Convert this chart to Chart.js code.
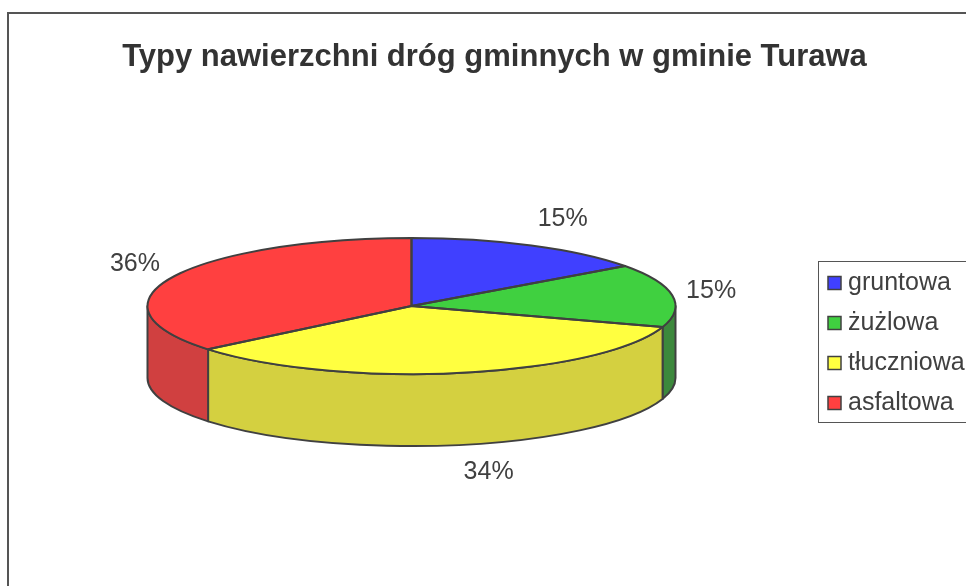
<!DOCTYPE html>
<html><head><meta charset="utf-8">
<script src="https://cdn.jsdelivr.net/npm/chart.js@4/dist/chart.umd.min.js"></script>
<style>html,body{margin:0;padding:0;background:#fff;overflow:hidden}canvas{display:block}</style>
</head><body>
<canvas id="c" width="966" height="586"></canvas>
<script>
const TITLE = 'Typy nawierzchni dróg gminnych w gminie Turawa';
const categories = ['gruntowa', 'żużlowa', 'tłuczniowa', 'asfaltowa'];
const shares = [15, 15, 34, 36];
const percentLabels = ['15%', '15%', '34%', '36%'];
const topColors = ['#4040FF', '#40D040', '#FFFF40', '#FF4040'];
const sideColors = ['#3434C4', '#3C883C', '#D4D040', '#D04040'];

const TILT = 68 / 264;
const DEPTH = 72;
const EDGE = '#404040';
const FONT = '"Liberation Sans", Arial, sans-serif';

function geom(chart) {
  const arcs = chart.getDatasetMeta(0).data;
  const a0 = arcs[0];
  return { arcs, cx: a0.x, cy: a0.y, r: a0.outerRadius, ry: a0.outerRadius * TILT };
}

const pie3d = {
  id: 'pie3d',
  beforeDraw(chart) {
    const ctx = chart.ctx;
    ctx.save();
    ctx.fillStyle = '#fff';
    ctx.fillRect(0, 0, chart.width, chart.height);
    ctx.strokeStyle = '#555';
    ctx.lineWidth = 2;
    ctx.strokeRect(8, 13, 1000, 1000);
    ctx.restore();
  },
  beforeDatasetsDraw(chart) {
    const ctx = chart.ctx;
    const g = geom(chart);
    ctx.save();
    ctx.lineWidth = 2;
    ctx.lineJoin = 'round';
    ctx.strokeStyle = EDGE;
    g.arcs.forEach((arc, i) => {
      const a = Math.max(arc.startAngle, 0);
      const b = Math.min(arc.endAngle, Math.PI);
      if (b <= a) return;
      ctx.beginPath();
      ctx.ellipse(g.cx, g.cy, g.r, g.ry, 0, a, b, false);
      ctx.lineTo(g.cx + g.r * Math.cos(b), g.cy + g.ry * Math.sin(b) + DEPTH);
      ctx.ellipse(g.cx, g.cy + DEPTH, g.r, g.ry, 0, b, a, true);
      ctx.closePath();
      ctx.fillStyle = sideColors[i];
      ctx.fill();
      ctx.stroke();
    });
    ctx.restore();
    ctx.save();
    ctx.translate(g.cx, g.cy);
    ctx.scale(1, TILT);
    ctx.translate(-g.cx, -g.cy);
  },
  afterDatasetsDraw(chart) {
    const ctx = chart.ctx;
    ctx.restore();
    const g = geom(chart);
    ctx.save();
    ctx.lineWidth = 2;
    ctx.lineJoin = 'round';
    ctx.strokeStyle = EDGE;
    g.arcs.forEach((arc) => {
      ctx.beginPath();
      ctx.moveTo(g.cx, g.cy);
      ctx.ellipse(g.cx, g.cy, g.r, g.ry, 0, arc.startAngle, arc.endAngle, false);
      ctx.closePath();
      ctx.stroke();
    });
    // percentage labels
    ctx.font = '25px ' + FONT;
    ctx.fillStyle = '#404040';
    ctx.textAlign = 'center';
    ctx.textBaseline = 'middle';
    const gap = 14, halfH = 14;
    g.arcs.forEach((arc, i) => {
      const m = (arc.startAngle + arc.endAngle) / 2;
      const c = Math.cos(m), s = Math.sin(m);
      let px = g.cx + g.r * c, py = g.cy + g.ry * s + (s > 0 ? DEPTH : 0);
      px += c * gap; py += s * gap;
      const w = ctx.measureText(percentLabels[i]).width;
      const n = Math.max(Math.abs(c), Math.abs(s));
      const x = px + Math.sign(c) * w / 2;
      const y = py + (s / n) * halfH;
      ctx.fillText(percentLabels[i], x, y);
    });
    ctx.restore();
  },
  afterDraw(chart) {
    const ctx = chart.ctx;
    ctx.save();
    // title
    ctx.font = 'bold 31px ' + FONT;
    ctx.fillStyle = '#333';
    ctx.textAlign = 'center';
    ctx.textBaseline = 'alphabetic';
    ctx.fillText(TITLE, 494.5, 66);
    // legend
    ctx.strokeStyle = '#555';
    ctx.lineWidth = 1;
    ctx.strokeRect(818.5, 261.5, 200, 161);
    ctx.font = '25px ' + FONT;
    ctx.textAlign = 'left';
    ctx.textBaseline = 'middle';
    categories.forEach((lab, i) => {
      const yc = 283 + i * 40;
      ctx.fillStyle = topColors[i];
      ctx.fillRect(828, yc - 6.5, 13, 13);
      ctx.strokeStyle = EDGE;
      ctx.lineWidth = 1.5;
      ctx.strokeRect(828, yc - 6.5, 13, 13);
      ctx.fillStyle = '#404040';
      ctx.fillText(lab, 848, yc);
    });
    ctx.restore();
  }
};

new Chart(document.getElementById('c'), {
  type: 'pie',
  data: {
    labels: categories,
    datasets: [{
      data: shares,
      backgroundColor: topColors,
      borderWidth: 0,
      clip: false
    }]
  },
  options: {
    responsive: false,
    animation: false,
    events: [],
    layout: { padding: { left: 147.5, right: 290.5, top: 42, bottom: 16 } },
    plugins: {
      legend: { display: false },
      title: { display: false },
      tooltip: { enabled: false }
    }
  },
  plugins: [pie3d]
});
</script>
</body></html>
